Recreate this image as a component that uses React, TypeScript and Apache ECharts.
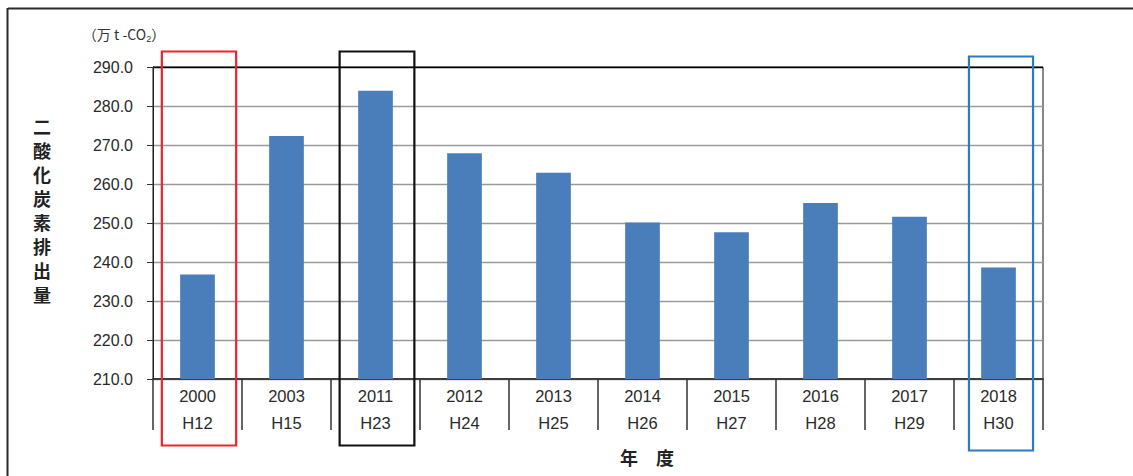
import React, { useEffect, useRef } from "react";
import * as echarts from "echarts";

const categories = ["2000", "2003", "2011", "2012", "2013", "2014", "2015", "2016", "2017", "2018"];
const eraLabels = ["H12", "H15", "H23", "H24", "H25", "H26", "H27", "H28", "H29", "H30"];
const emissions = [236.8, 272.3, 283.9, 267.9, 262.9, 250.1, 247.6, 255.1, 251.6, 238.6];
const yMin = 210;
const yMax = 290;
const yStep = 10;
const highlightYears = ["2000", "2011", "2018"];
const yTitle = "二酸化炭素排出量";
const xTitle = "年　度";

const LATIN = "'Liberation Sans', Arial, sans-serif";
const CJK = "'Noto Sans CJK JP', 'Noto Sans', sans-serif";

export default function App() {
  const ref = useRef<HTMLDivElement>(null);

  useEffect(() => {
    if (!ref.current) return;
    const chart = echarts.init(ref.current, undefined, { renderer: "svg" });
    const splitColors: string[] = [];
    const nLines = Math.round((yMax - yMin) / yStep) + 1;
    for (let i = 0; i < nLines; i++) splitColors.push(i === nLines - 1 ? "#000" : "#9a9a9a");

    chart.setOption({
      animation: false,
      backgroundColor: "#fff",
      grid: {
        left: 153,
        right: 90,
        top: 67,
        bottom: 97,
        show: true,
        borderColor: "#111",
        borderWidth: 1,
        backgroundColor: "transparent",
      },
      xAxis: {
        type: "category",
        data: categories,
        axisLine: { show: true, lineStyle: { color: "#222", width: 1.5 } },
        axisTick: { show: true, length: 51, lineStyle: { color: "#333", width: 1.5 } },
        axisLabel: {
          margin: 3,
          color: "#2a2a2a",
          fontSize: 16.5,
          fontFamily: LATIN,
          lineHeight: 27,
          formatter: (v: string, i: number) => v + "\n" + eraLabels[i],
        },
        splitLine: { show: false },
      },
      yAxis: {
        type: "value",
        min: yMin,
        max: yMax,
        interval: yStep,
        axisLine: { show: true, lineStyle: { color: "#222", width: 1 } },
        axisTick: { show: true, length: 6, lineStyle: { color: "#333" } },
        axisLabel: {
          margin: 20,
          color: "#2a2a2a",
          fontSize: 16,
          fontFamily: LATIN,
          formatter: (v: number) => v.toFixed(1),
        },
        splitLine: { show: true, lineStyle: { color: splitColors, width: 1.3 } },
      },
      series: [
        {
          type: "bar",
          data: emissions,
          barWidth: "39%",
          itemStyle: { color: "#4a7ebb" },
        },
      ],
    });

    const yTop = chart.convertToPixel({ yAxisIndex: 0 }, yMax) as number;
    const yBot = chart.convertToPixel({ yAxisIndex: 0 }, yMin) as number;
    const x0 = chart.convertToPixel({ xAxisIndex: 0 }, categories[0]) as number;
    const x1 = chart.convertToPixel({ xAxisIndex: 0 }, categories[1]) as number;
    const band = x1 - x0;

    const boxStyles = [
      { color: "#e8262b", ratio: 0.835, dTop: -15.5, dBot: 66.5, dx: 1.5 },
      { color: "#111111", ratio: 0.84, dTop: -15.5, dBot: 66.5, dx: 1.5 },
      { color: "#2a7ac6", ratio: 0.72, dTop: -10.5, dBot: 71.5, dx: 2.5 },
    ];

    const boxes = highlightYears.map((yr, i) => {
      const cx = (chart.convertToPixel({ xAxisIndex: 0 }, yr) as number) + boxStyles[i].dx;
      const w = band * boxStyles[i].ratio;
      const top = yTop + boxStyles[i].dTop;
      const bottom = yBot + boxStyles[i].dBot;
      return {
        type: "rect",
        z: 100,
        shape: { x: cx - w / 2, y: top, width: w, height: bottom - top },
        style: { fill: "none", stroke: boxStyles[i].color, lineWidth: 2.2 },
      };
    });

    chart.setOption({
      graphic: [
        {
          type: "line",
          shape: { x1: 8, y1: 8.5, x2: 1133, y2: 8.5 },
          style: { stroke: "#2b2b2b", lineWidth: 2 },
        },
        {
          type: "line",
          shape: { x1: 7.5, y1: 8, x2: 7.5, y2: 476 },
          style: { stroke: "#2b2b2b", lineWidth: 2 },
        },
        {
          type: "text",
          x: 124,
          y: 34,
          style: {
            text: "{a|（万 t -CO}{b|2}{a|）}",
            align: "center",
            verticalAlign: "middle",
            rich: {
              a: { fontSize: 14, fontFamily: CJK, fill: "#333" },
              b: { fontSize: 9, fontFamily: LATIN, fill: "#333", padding: [9, 0, 0, 0] },
            },
          },
        },
        {
          type: "text",
          x: 42,
          y: 209.5,
          style: {
            text: yTitle.split("").join("\n"),
            align: "center",
            verticalAlign: "middle",
            fontSize: 18,
            fontWeight: "bold",
            fontFamily: CJK,
            lineHeight: 24,
            fill: "#222",
          },
        },
        {
          type: "text",
          x: 647,
          y: 457,
          style: {
            text: xTitle,
            align: "center",
            verticalAlign: "middle",
            fontSize: 18,
            fontWeight: "bold",
            fontFamily: CJK,
            fill: "#222",
          },
        },
        ...boxes,
      ],
    });

    return () => chart.dispose();
  }, []);

  return (
    <div
      ref={ref}
      style={{ position: "absolute", left: 0, top: 0, width: 1133, height: 476, background: "#fff" }}
    />
  );
}
